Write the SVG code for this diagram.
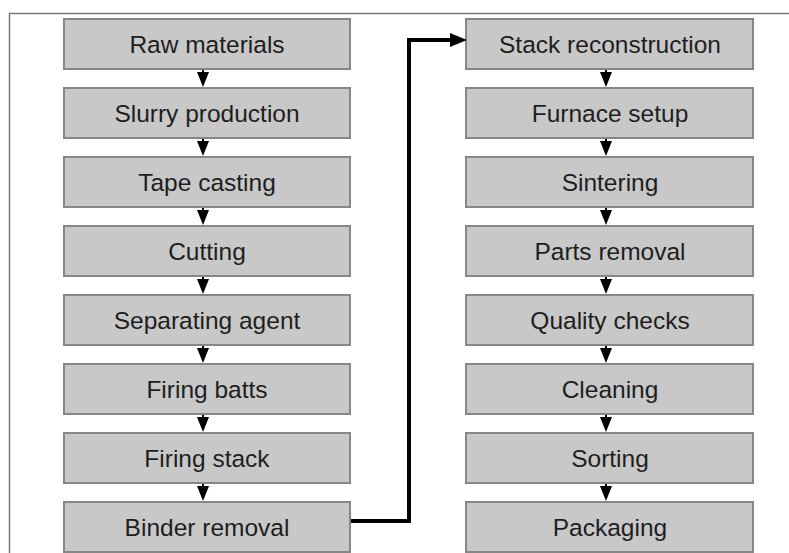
<svg xmlns="http://www.w3.org/2000/svg" width="789" height="553" viewBox="0 0 789 553">
  <style>
    .box rect { fill: #c8c8c8; stroke: #878787; stroke-width: 2; }
    .box text { font-family: "Liberation Sans", Arial, sans-serif; font-size: 24.5px; fill: #1e1e1e; text-anchor: middle; }
    .step { stroke: #000; stroke-width: 2; fill: none; }
    .jump { stroke: #000; stroke-width: 4; fill: none; stroke-linejoin: miter; }
    .frame { stroke: #7a7a7a; stroke-width: 1.5; fill: none; }
  </style>
  <defs>
    <marker id="tri" markerUnits="userSpaceOnUse" viewBox="0 0 15 12" refX="0" refY="6" markerWidth="15" markerHeight="12" orient="auto">
      <path d="M0,0 L15,6 L0,12 Z" fill="#000"/>
    </marker>
    <marker id="bigtri" markerUnits="userSpaceOnUse" viewBox="0 0 17 14" refX="1" refY="7" markerWidth="17" markerHeight="14" orient="auto">
      <path d="M0,0 L17,7 L0,14 Z" fill="#000"/>
    </marker>
  </defs>
  <rect width="789" height="553" fill="#fff"/>
  <path class="frame" d="M9.5,553 V13.5 H789"/>

  <!-- left column -->
  <g id="raw-materials" class="box"><rect x="64" y="19" width="286" height="50"/><text x="207" y="52.5">Raw materials</text></g>
  <g id="slurry-production" class="box"><rect x="64" y="88" width="286" height="50"/><text x="207" y="121.5">Slurry production</text></g>
  <g id="tape-casting" class="box"><rect x="64" y="157" width="286" height="50"/><text x="207" y="190.5">Tape casting</text></g>
  <g id="cutting" class="box"><rect x="64" y="226" width="286" height="50"/><text x="207" y="259.5">Cutting</text></g>
  <g id="separating-agent" class="box"><rect x="64" y="295" width="286" height="50"/><text x="207" y="328.5">Separating agent</text></g>
  <g id="firing-batts" class="box"><rect x="64" y="364" width="286" height="50"/><text x="207" y="397.5">Firing batts</text></g>
  <g id="firing-stack" class="box"><rect x="64" y="433" width="286" height="50"/><text x="207" y="466.5">Firing stack</text></g>
  <g id="binder-removal" class="box"><rect x="64" y="502" width="286" height="50"/><text x="207" y="535.5">Binder removal</text></g>

  <!-- right column -->
  <g id="stack-reconstruction" class="box"><rect x="466" y="19" width="287" height="50"/><text x="610" y="52.5">Stack reconstruction</text></g>
  <g id="furnace-setup" class="box"><rect x="466" y="88" width="287" height="50"/><text x="610" y="121.5">Furnace setup</text></g>
  <g id="sintering" class="box"><rect x="466" y="157" width="287" height="50"/><text x="610" y="190.5">Sintering</text></g>
  <g id="parts-removal" class="box"><rect x="466" y="226" width="287" height="50"/><text x="610" y="259.5">Parts removal</text></g>
  <g id="quality-checks" class="box"><rect x="466" y="295" width="287" height="50"/><text x="610" y="328.5">Quality checks</text></g>
  <g id="cleaning" class="box"><rect x="466" y="364" width="287" height="50"/><text x="610" y="397.5">Cleaning</text></g>
  <g id="sorting" class="box"><rect x="466" y="433" width="287" height="50"/><text x="610" y="466.5">Sorting</text></g>
  <g id="packaging" class="box"><rect x="466" y="502" width="287" height="50"/><text x="610" y="535.5">Packaging</text></g>

  <g id="connectors">
    <path class="step" marker-end="url(#tri)" d="M203,70 V72"/>
    <path class="step" marker-end="url(#tri)" d="M203,139 V141"/>
    <path class="step" marker-end="url(#tri)" d="M203,208 V210"/>
    <path class="step" marker-end="url(#tri)" d="M203,277 V279"/>
    <path class="step" marker-end="url(#tri)" d="M203,346 V348"/>
    <path class="step" marker-end="url(#tri)" d="M203,415 V417"/>
    <path class="step" marker-end="url(#tri)" d="M203,484 V486"/>

    <path class="jump" marker-end="url(#bigtri)" d="M351,521 H409 V40 H451"/>

    <path class="step" marker-end="url(#tri)" d="M606,70 V72"/>
    <path class="step" marker-end="url(#tri)" d="M606,139 V141"/>
    <path class="step" marker-end="url(#tri)" d="M606,208 V210"/>
    <path class="step" marker-end="url(#tri)" d="M606,277 V279"/>
    <path class="step" marker-end="url(#tri)" d="M606,346 V348"/>
    <path class="step" marker-end="url(#tri)" d="M606,415 V417"/>
    <path class="step" marker-end="url(#tri)" d="M606,484 V486"/>
  </g>
</svg>
